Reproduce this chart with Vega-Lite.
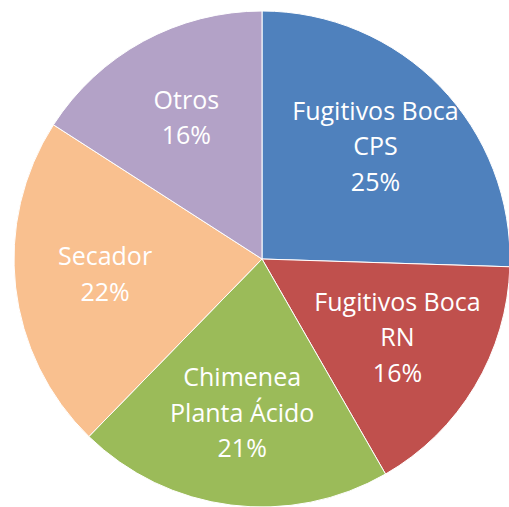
{
  "$schema": "https://vega.github.io/schema/vega-lite/v6.json",
  "width": 494,
  "height": 496,
  "autosize": "none",
  "padding": {"left": 15, "top": 11, "right": 0, "bottom": 0},
  "background": "white",
  "view": {"stroke": null},
  "data": {
    "values": [
      {"categoria": "Fugitivos Boca CPS", "etiqueta": "Fugitivos Boca\nCPS\n25%", "valor": 25.5, "orden": 1},
      {"categoria": "Fugitivos Boca RN", "etiqueta": "Fugitivos Boca\nRN\n16%", "valor": 16.2, "orden": 2},
      {"categoria": "Chimenea Planta Ácido", "etiqueta": "Chimenea\nPlanta Ácido\n21%", "valor": 20.6, "orden": 3},
      {"categoria": "Secador", "etiqueta": "Secador\n22%", "valor": 21.8, "orden": 4},
      {"categoria": "Otros", "etiqueta": "Otros\n16%", "valor": 15.9, "orden": 5}
    ]
  },
  "encoding": {
    "theta": {"field": "valor", "type": "quantitative", "stack": true},
    "order": {"field": "orden", "type": "ordinal"}
  },
  "layer": [
    {
      "mark": {"type": "arc", "outerRadius": 248, "stroke": "#ffffff", "strokeWidth": 1},
      "encoding": {
        "color": {
          "field": "categoria",
          "type": "nominal",
          "sort": ["Fugitivos Boca CPS", "Fugitivos Boca RN", "Chimenea Planta Ácido", "Secador", "Otros"],
          "scale": {
            "domain": ["Fugitivos Boca CPS", "Fugitivos Boca RN", "Chimenea Planta Ácido", "Secador", "Otros"],
            "range": ["#4F81BD", "#C0504D", "#9BBB59", "#F9C08F", "#B3A2C7"]
          },
          "legend": null
        }
      }
    },
    {
      "mark": {
        "type": "text",
        "radius": 158,
        "fill": "#ffffff",
        "font": "Open Sans",
        "fontSize": 25,
        "lineBreak": "\n",
        "lineHeight": 35.5,
        "align": "center",
        "baseline": "middle",
        "dy": {"expr": "-(length(split(datum.etiqueta, '\\n')) - 1) * 17.75 - 2"}
      },
      "encoding": {
        "text": {"field": "etiqueta", "type": "nominal"}
      }
    }
  ]
}
